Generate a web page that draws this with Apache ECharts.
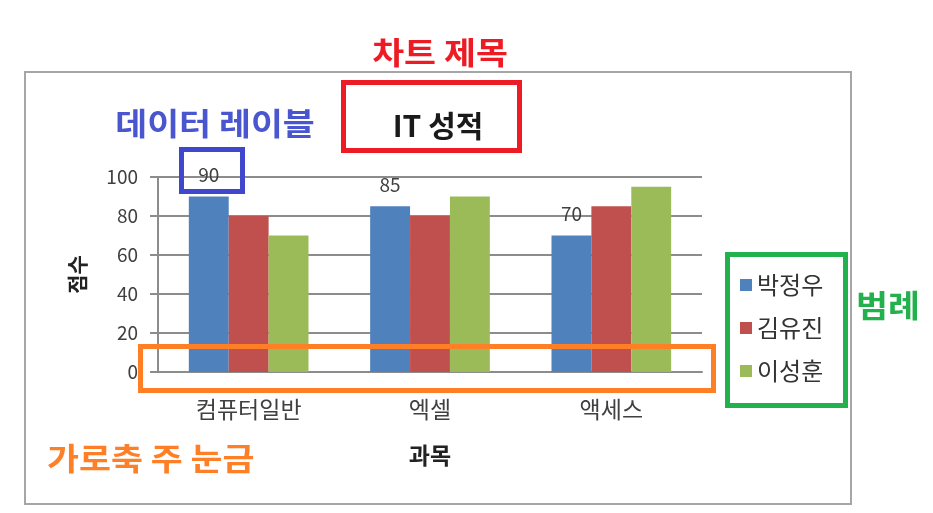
<!DOCTYPE html>
<html>
<head>
<meta charset="utf-8">
<script src="https://cdn.jsdelivr.net/npm/echarts@6/dist/echarts.min.js"></script>
<style>
  html, body { margin: 0; padding: 0; background: #fff; }
  #root { width: 933px; height: 513px; }
</style>
</head>
<body>
<div id="root"></div>
<script>
// categories and scores
var subjects = ['컴퓨터일반', '엑셀', '액세스']
var students = ['박정우', '김유진', '이성훈']
var scoresPark = [90, 85, 70]
var scoresKim = [80, 80, 85]
var scoresLee = [70, 90, 95]
var yTicks = [0, 20, 40, 60, 80, 100]

var FONT = '"Noto Sans CJK KR", "Noto Sans", sans-serif'
var barColors = ['#4f81bd', '#c0504d', '#9bbb59']

var chart = echarts.init(document.getElementById('root'))

// annotation boxes drawn over the chart
var note = function (x, y, w, h, color) {
  return {
    type: 'rect', z: 100, silent: true,
    shape: { x: x, y: y, width: w, height: h },
    style: { fill: 'none', stroke: color, lineWidth: 5 }
  }
}
var noteText = function (x, y, text, color, align) {
  return {
    type: 'text', z: 100, silent: true, x: x, y: y, scaleX: 1.12,
    style: {
      text: text, fill: color, font: 'bold 31px ' + FONT,
      align: align || 'center', verticalAlign: 'middle'
    }
  }
}

var option = {
  animation: false,
  backgroundColor: '#fff',
  textStyle: { fontFamily: FONT },
  title: {
    text: 'IT 성적',
    left: 433, top: 106,
    textAlign: 'center',
    textStyle: { fontFamily: FONT, fontSize: 30, fontWeight: 'bold', color: '#1a1a1a' }
  },
  legend: {
    orient: 'vertical',
    left: 735, top: 268,
    itemWidth: 12, itemHeight: 12, itemGap: 19,
    icon: 'rect',
    data: students,
    textStyle: { fontFamily: FONT, fontSize: 24, color: '#333' }
  },
  grid: { left: 158, right: 231, top: 177, bottom: 141 },
  xAxis: {
    type: 'category',
    data: subjects,
    name: '과목',
    nameLocation: 'middle',
    nameGap: 72,
    nameTextStyle: { fontFamily: FONT, fontSize: 23, fontWeight: 'bold', color: '#222' },
    axisLine: { lineStyle: { color: '#8c8c8c', width: 2 } },
    axisTick: { inside: true, length: 7, lineStyle: { color: '#8c8c8c', width: 1.5 } },
    axisLabel: { margin: 26, fontFamily: FONT, fontSize: 23, color: '#404040' }
  },
  yAxis: {
    type: 'value',
    min: yTicks[0], max: yTicks[yTicks.length - 1], interval: 20,
    name: '점수',
    nameLocation: 'middle',
    nameGap: 70,
    nameTextStyle: { fontFamily: FONT, fontSize: 21, fontWeight: 'bold', color: '#222' },
    axisLine: { show: true, lineStyle: { color: '#8c8c8c', width: 2 } },
    axisTick: { show: true, length: 8, lineStyle: { color: '#8c8c8c', width: 2 } },
    axisLabel: { margin: 20, fontFamily: FONT, fontSize: 19, color: '#404040' },
    splitLine: { lineStyle: { color: '#8c8c8c', width: 2 } }
  },
  series: [
    {
      name: students[0], type: 'bar', data: scoresPark,
      barGap: '0%', barCategoryGap: '34%',
      itemStyle: { color: barColors[0] },
      label: { show: true, position: 'top', distance: 12, fontFamily: FONT, fontSize: 19, color: '#404040' }
    },
    {
      name: students[1], type: 'bar', data: scoresKim,
      barGap: '0%', barCategoryGap: '34%',
      itemStyle: { color: barColors[1] }
    },
    {
      name: students[2], type: 'bar', data: scoresLee,
      barGap: '0%', barCategoryGap: '34%',
      itemStyle: { color: barColors[2] }
    }
  ],
  graphic: [
    {
      type: 'rect', z: 0, silent: true,
      shape: { x: 25, y: 72, width: 826, height: 432 },
      style: { fill: 'none', stroke: '#a6a6a6', lineWidth: 2 }
    },
    note(343.5, 82.5, 176, 68, '#ed1c24'),
    note(181.5, 149.5, 61, 42, '#3f48cc'),
    note(140.5, 346.5, 573, 44, '#ff7f27'),
    note(727.5, 254.5, 118, 151, '#22b14c'),
    noteText(440, 52, '차트 제목', '#ed1c24'),
    noteText(215, 123, '데이터 레이블', '#4a55d0'),
    noteText(47, 458, '가로축 주 눈금', '#ff7f27', 'left'),
    noteText(888, 305, '범례', '#22b14c')
  ]
}

chart.setOption(option)
</script>
</body>
</html>
